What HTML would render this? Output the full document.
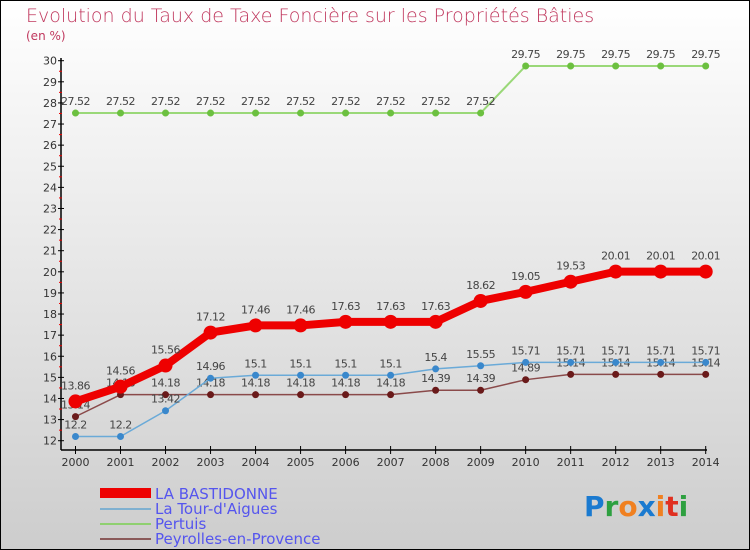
<!DOCTYPE html>
<html><head><meta charset="utf-8"><style>
body{margin:0}
svg{display:block;font-family:"DejaVu Sans","Liberation Sans",sans-serif}
</style></head><body>
<svg width="750" height="550" viewBox="0 0 750 550" id="c">
<defs><linearGradient id="bg" x1="0" y1="0" x2="0" y2="1"><stop offset="0" stop-color="#ffffff"/><stop offset="1" stop-color="#cdcdcd"/></linearGradient></defs>
<rect x="0.5" y="0.5" width="749" height="549" fill="url(#bg)" stroke="#000"/>
<text x="26" y="22" font-size="19" fill="#c0385e" style="font-family:'DejaVu Sans',sans-serif;font-weight:200">Evolution du Taux de Taxe Foncière sur les Propriétés Bâties</text>
<text x="26" y="40" font-size="12" fill="#c0385e">(en %)</text>
<g id="axes"></g>
<g id="series"></g>
<g>
<rect x="100" y="488" width="51" height="10" fill="#ee0000"/>
<text x="155" y="499" font-size="15" fill="#5555ee">LA BASTIDONNE</text>
<rect x="100" y="508" width="51" height="2" fill="#7fb0d0"/>
<text x="155" y="514" font-size="15" fill="#5555ee">La Tour-d'Aigues</text>
<rect x="100" y="523" width="51" height="2" fill="#8fd070"/>
<text x="155" y="529" font-size="15" fill="#5555ee">Pertuis</text>
<rect x="100" y="538" width="51" height="2" fill="#8a5a5a"/>
<text x="155" y="544" font-size="15" fill="#5555ee">Peyrolles-en-Provence</text>
</g>
<g font-size="28" font-weight="bold" style="font-family:'DejaVu Sans',sans-serif">
<text x="584" y="516"><tspan fill="#1a7ad0">P</tspan><tspan fill="#2ea040">r</tspan><tspan fill="#f08020">o</tspan><tspan fill="#1a7ad0">x</tspan><tspan fill="#f08020">i</tspan><tspan fill="#e03020">t</tspan><tspan fill="#2ea040">i</tspan></text>
</g>
</svg>
<script>
const years=["2000","2001","2002","2003","2004","2005","2006","2007","2008","2009","2010","2011","2012","2013","2014"];
const yTicks=[12,13,14,15,16,17,18,19,20,21,22,23,24,25,26,27,28,29,30];
const bastidonne=[13.86,14.56,15.56,17.12,17.46,17.46,17.63,17.63,17.63,18.62,19.05,19.53,20.01,20.01,20.01];
const tourAigues=[12.2,12.2,13.42,14.96,15.1,15.1,15.1,15.1,15.4,15.55,15.71,15.71,15.71,15.71,15.71];
const pertuis=[27.52,27.52,27.52,27.52,27.52,27.52,27.52,27.52,27.52,27.52,29.75,29.75,29.75,29.75,29.75];
const peyrolles=[13.14,14.18,14.18,14.18,14.18,14.18,14.18,14.18,14.39,14.39,14.89,15.14,15.14,15.14,15.14];
const NS="http://www.w3.org/2000/svg";
const X=i=>75.5+i*(705.7-75.5)/(years.length-1);
const Y=v=>440.7-(v-12)*(440.7-60.7)/18;
function mk(t,a,p){const e=document.createElementNS(NS,t);for(const k in a)e.setAttribute(k,a[k]);p.appendChild(e);return e;}
const ax=document.getElementById('axes');
mk('line',{x1:61,y1:58,x2:61,y2:450,stroke:'#000','stroke-width':1.5},ax);
mk('line',{x1:61,y1:450,x2:707,y2:450,stroke:'#000','stroke-width':1.5},ax);
yTicks.forEach(v=>{
 mk('line',{x1:58,y1:Y(v),x2:64,y2:Y(v),stroke:'#000'},ax);
 if(v<30) mk('line',{x1:59,y1:Y(v+0.5),x2:62,y2:Y(v+0.5),stroke:'#e00'},ax);
 const t=mk('text',{x:57,y:Y(v)+4,'font-size':11,'text-anchor':'end',fill:'#333'},ax);t.textContent=v;
 
 
});
years.forEach((y,i)=>{
 mk('line',{x1:X(i),y1:446,x2:X(i),y2:454,stroke:'#000'},ax);
 const t=mk('text',{x:X(i),y:466,'font-size':11,'text-anchor':'middle',fill:'#333'},ax);t.textContent=y;
 
 
});
const sg=document.getElementById('series');
function draw(vals,name,color,w,r,dot,lbl,off){
 const g=mk('g',{},sg);
 
 
 mk('polyline',{points:vals.map((v,i)=>X(i)+','+Y(v)).join(' '),fill:'none',stroke:color,'stroke-width':w,'stroke-linejoin':'round'},g);
 vals.forEach((v,i)=>{
  const c=mk('circle',{cx:X(i),cy:Y(v),r:r,fill:dot},g);
  
  
  const t=mk('text',{x:X(i),y:Y(v)-off,'font-size':11,'text-anchor':'middle',fill:'#444','letter-spacing':'-0.5'},g);t.textContent=v;
  
  
 });
}
draw(pertuis,'pertuis','#9ad878',2,3.5,'#6cc040','',8);
draw(peyrolles,'peyrolles','#8a4a4a',1.5,3.5,'#6a1a1a','',8);
draw(tourAigues,'la-tour-d-aigues','#6aaad8',1.5,3.5,'#3a88cc','',8);
draw(bastidonne,'la-bastidonne','#ee0000',8,7,'#ee0000','',12);
</script>
</body></html>
